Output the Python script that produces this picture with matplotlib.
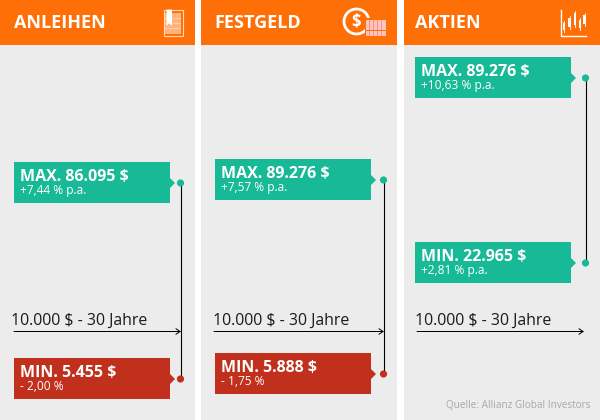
import matplotlib
matplotlib.use("Agg")
import matplotlib.pyplot as plt
from matplotlib.patches import Rectangle, Polygon, Circle

plt.rcParams['font.family'] = ['Open Sans', 'DejaVu Sans']

titles = ["ANLEIHEN", "FESTGELD", "AKTIEN"]
max_labels = ["MAX. 86.095 $", "MAX. 89.276 $", "MAX. 89.276 $"]
max_rates = ["+7,44 % p.a.", "+7,57 % p.a.", "+10,63 % p.a."]
min_labels = ["MIN. 5.455 $", "MIN. 5.888 $", "MIN. 22.965 $"]
min_rates = ["- 2,00 %", "- 1,75 %", "+2,81 % p.a."]
axis_label = "10.000 $ - 30 Jahre"
source = "Quelle: Allianz Global Investors"

panel_x = [(0, 195), (201, 396.5), (404, 600)]
box_x = [14, 215, 415]
dot_x = [180.5, 383.5, 585.5]
max_top = [162, 159, 57]
min_top = [358, 353, 242]
arrow = [(14, 181, 331.5), (214, 384, 331.5), (417, 584, 331.5)]
axis_text_x = [11, 213, 415]
axis_text_y = [320.5, 320.5, 320.5]

ORANGE = "#ff6f07"
GREY = "#ececec"
GREEN = "#17b997"
RED = "#c1301c"
BOX_W, BOX_H = 156, 41

fig = plt.figure(figsize=(6, 4.2), dpi=100, facecolor="white")
ax = fig.add_axes([0, 0, 1, 1])
ax.set_xlim(0, 600)
ax.set_ylim(420, 0)
ax.axis("off")


def callout(x, top, dot, color, label, rate):
    ax.add_patch(Rectangle((x, top), BOX_W, BOX_H, fc=color, ec="none", zorder=3))
    cy = top + 21
    r = x + BOX_W
    ax.add_patch(Polygon([(r, cy - 5), (r + 5, cy), (r, cy + 5)], fc=color, ec="none", zorder=3))
    ax.add_patch(Circle((dot, cy), 3.6, fc=color, ec="none", zorder=5))
    ax.text(x + 6, top + 15, label, color="white", fontsize=11.5, fontweight="bold", va="center", ha="left", zorder=6)
    ax.text(x + 6, top + 28.5, rate, color="white", fontsize=8.6, va="center", ha="left", zorder=6)


for i in range(3):
    x0, x1 = panel_x[i]
    ax.add_patch(Rectangle((x0, 0), x1 - x0, 420, fc=GREY, ec="none", zorder=1))
    ax.add_patch(Rectangle((x0, 0), x1 - x0, 45, fc=ORANGE, ec="none", zorder=2))
    ax.text(box_x[i] - (0.5 if i == 1 else 0), 23, titles[i], color="white", fontsize=13, fontweight="bold", va="center", ha="left", zorder=6)
    callout(box_x[i], max_top[i], dot_x[i], GREEN, max_labels[i], max_rates[i])
    callout(box_x[i], min_top[i], dot_x[i], RED if i < 2 else GREEN, min_labels[i], min_rates[i])
    ax.plot([dot_x[i]] * 2, [max_top[i] + 21, min_top[i] + 21], color="black", lw=0.8, zorder=4)
    ax1, ax2, ay = arrow[i]
    ax.annotate("", xy=(ax2, ay), xytext=(ax1, ay), zorder=4,
                arrowprops=dict(arrowstyle="->,head_length=0.3,head_width=0.2", color="black", lw=0.72,
                                shrinkA=0, shrinkB=0))
    ax.text(axis_text_x[i], axis_text_y[i], axis_label, color="#1a1a1a", fontsize=11.4, va="center", ha="left", zorder=6)

ax.text(590, 405.5, source, color="#a8a8a8", fontsize=7.2, va="center", ha="right", zorder=6)

# Header icons
# Book
ax.add_patch(Rectangle((163.5, 9.5), 19, 26, fc="none", ec="#ffd9b8", lw=0.8, zorder=6))
ax.add_patch(Rectangle((165, 13), 16, 21, fc="#ffb27d", ec="none", zorder=6))
for yy in (18, 23, 28):
    ax.add_patch(Rectangle((165, yy), 16, 1.2, fc="#ffcfa8", ec="none", zorder=7))
ax.add_patch(Polygon([(166.5, 9.5), (172, 9.5), (172, 26), (169.2, 23), (166.5, 26)], fc="white", ec="none", zorder=8))

# Coin + bills
ax.add_patch(Circle((356.5, 21.5), 12.5, fc="none", ec="white", lw=2, zorder=6))
ax.text(356.5, 21.5, "$", color="white", fontsize=12, fontweight="bold", ha="center", va="center", zorder=7)
ax.add_patch(Rectangle((364.5, 17.5), 22, 20, fc=ORANGE, ec="none", zorder=7))
for yy in (19.5, 25, 31):
    ax.add_patch(Rectangle((366, yy), 20, 5, fc="#ffc3c0", ec="none", zorder=8))
    for xx in (369, 373, 377, 381):
        ax.add_patch(Rectangle((xx, yy), 0.8, 5, fc="#ff8f70", ec="none", zorder=9))

# Candlestick chart
ax.plot([560.5, 560.5, 586], [10, 35.5, 35.5], color="white", lw=1, zorder=6, solid_joinstyle="miter")
candle_x = [564, 569.5, 575, 580, 584.5]
candle_hi = [21, 16, 11, 18, 13]
candle_lo = [32, 29, 27, 30, 26]
body_top = [23, 18, 13, 20, 15]
body_bot = [30, 27, 25, 28, 24]
for cx, hi, lo, bt, bb in zip(candle_x, candle_hi, candle_lo, body_top, body_bot):
    ax.plot([cx, cx], [hi, lo], color="white", lw=0.6, zorder=6)
    ax.add_patch(Rectangle((cx - 1.2, bt), 2.4, bb - bt, fc="white", ec="none", zorder=7))

fig.savefig("out.png", dpi=100, facecolor="white")
